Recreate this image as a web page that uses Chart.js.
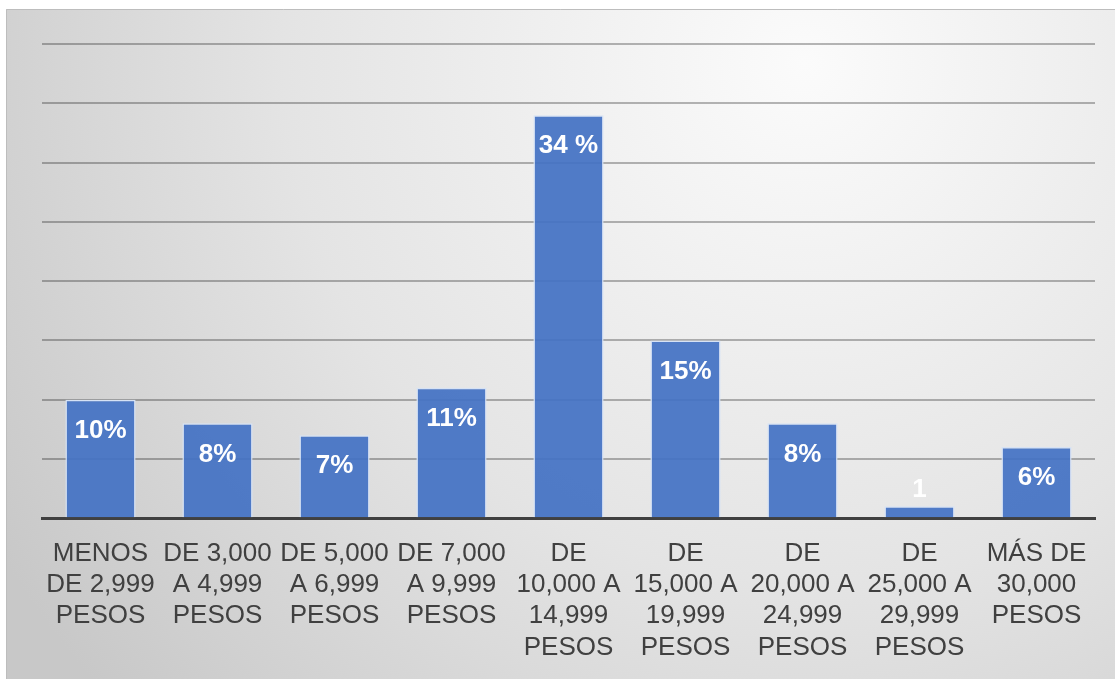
<!DOCTYPE html>
<html>
<head>
<meta charset="utf-8">
<script src="https://cdn.jsdelivr.net/npm/chart.js@4/dist/chart.umd.min.js"></script>
<style>
  html, body { margin: 0; padding: 0; background: #fff; overflow: hidden; }
  #wrap { position: absolute; left: 6px; top: 9px; width: 1109px; height: 674px; }
</style>
</head>
<body>
<div id="wrap"><canvas id="ingresoChart"></canvas></div>
<script>
const categories = [
  ['MENOS', 'DE 2,999', 'PESOS'],
  ['DE 3,000', 'A 4,999', 'PESOS'],
  ['DE 5,000', 'A 6,999', 'PESOS'],
  ['DE 7,000', 'A 9,999', 'PESOS'],
  ['DE', '10,000 A', '14,999', 'PESOS'],
  ['DE', '15,000 A', '19,999', 'PESOS'],
  ['DE', '20,000 A', '24,999', 'PESOS'],
  ['DE', '25,000 A', '29,999', 'PESOS'],
  ['MÁS DE', '30,000', 'PESOS']
];
const values = [10, 8, 7, 11, 34, 15, 8, 1, 6];
const valueLabels = ['10%', '8%', '7%', '11%', '34 %', '15%', '8%', '1', '6%'];

// gradient background like the office chart style
const bgPlugin = {
  id: 'bg',
  beforeDraw(chart) {
    const c = chart.ctx, w = chart.width, h = chart.height;
    const g = c.createRadialGradient(w * 0.72, h * 0.08, 0, w * 0.72, h * 0.08, w * 0.85);
    g.addColorStop(0, '#fbfbfb');
    g.addColorStop(0.55, '#e4e4e4');
    g.addColorStop(1, '#c8c8c8');
    c.save();
    c.fillStyle = g;
    c.fillRect(0, 0, w, h);
    c.strokeStyle = '#bdbdbd';
    c.lineWidth = 1;
    c.beginPath();
    c.moveTo(0.5, h);
    c.lineTo(0.5, 0.5);
    c.lineTo(w, 0.5);
    c.stroke();
    c.restore();
  }
};

// white labels near the top of each bar
const labelPlugin = {
  id: 'barLabels',
  afterDatasetsDraw(chart) {
    const c = chart.ctx;
    const meta = chart.getDatasetMeta(0);
    c.save();
    c.fillStyle = '#ffffff';
    c.font = 'bold 26px "Liberation Sans", Arial, sans-serif';
    c.textAlign = 'center';
    c.textBaseline = 'middle';
    meta.data.forEach((bar, i) => {
      const hgt = bar.base - bar.y;
      const y = hgt > 45 ? bar.y + 31 : bar.y - 17;
      c.fillText(valueLabels[i], bar.x, y);
    });
    c.restore();
  }
};

new Chart(document.getElementById('ingresoChart'), {
  type: 'bar',
  data: {
    labels: categories,
    datasets: [{
      data: values,
      backgroundColor: 'rgba(68, 114, 196, 0.93)',
      borderColor: '#d6e2f5',
      borderWidth: 1.5,
      barPercentage: 0.6,
      categoryPercentage: 1
    }]
  },
  options: {
    responsive: true,
    maintainAspectRatio: false,
    animation: false,
    layout: { padding: { left: 36, right: 20, top: 35, bottom: 0 } },
    plugins: { legend: { display: false }, tooltip: { enabled: false } },
    scales: {
      x: {
        grid: { display: false, drawTicks: false },
        border: { color: '#404040', width: 3 },
        ticks: {
          autoSkip: false,
          maxRotation: 0,
          padding: 20,
          color: '#404040',
          font: { family: '"Liberation Sans", Arial, sans-serif', size: 26, lineHeight: 1.2 }
        }
      },
      y: {
        min: 0,
        max: 40,
        ticks: { display: false, stepSize: 5 },
        border: { display: false },
        grid: { color: 'rgba(0,0,0,0.28)', lineWidth: 2, drawTicks: false }
      }
    }
  },
  plugins: [bgPlugin, labelPlugin]
});
</script>
</body>
</html>
